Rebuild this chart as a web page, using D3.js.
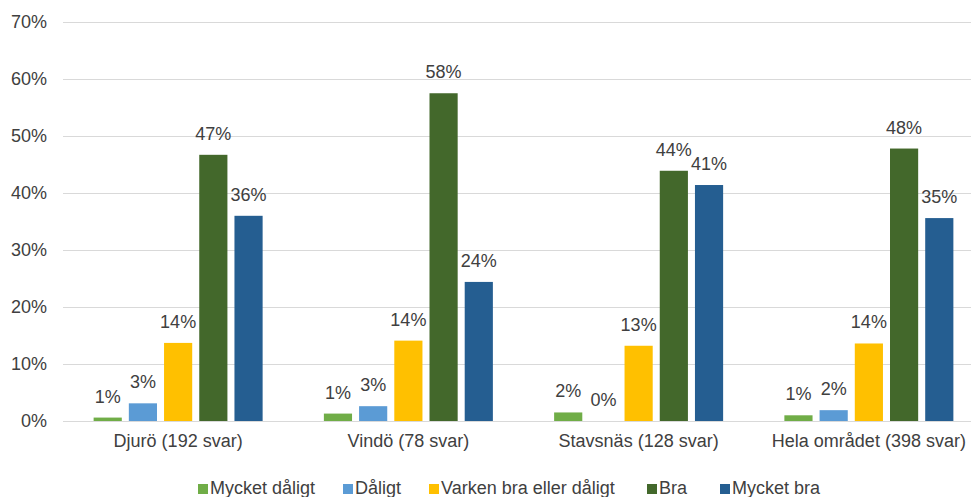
<!DOCTYPE html>
<html><head><meta charset="utf-8">
<script src="https://cdn.jsdelivr.net/npm/d3@7"></script>
<style>
body{margin:0;background:#fff;}
svg{display:block;font-family:"Liberation Sans",Arial,sans-serif;}
</style></head>
<body><svg id="c" width="971" height="497"></svg>
<script>
const categories = ["Djurö (192 svar)", "Vindö (78 svar)", "Stavsnäs (128 svar)", "Hela området (398 svar)"];
const seriesNames = ["Mycket dåligt", "Dåligt", "Varken bra eller dåligt", "Bra", "Mycket bra"];
const seriesColors = ["#70ad47", "#5b9bd5", "#ffc000", "#43682b", "#255e91"];
const mycketDaligt = [0.006, 0.013, 0.015, 0.010];
const daligt = [0.031, 0.026, 0.0, 0.019];
const varken = [0.137, 0.141, 0.132, 0.136];
const bra = [0.467, 0.575, 0.439, 0.478];
const mycketBra = [0.360, 0.244, 0.414, 0.356];
const labels = [
  ["1%", "3%", "14%", "47%", "36%"],
  ["1%", "3%", "14%", "58%", "24%"],
  ["2%", "0%", "13%", "44%", "41%"],
  ["1%", "2%", "14%", "48%", "35%"]
];
const yTicks = [0, 0.1, 0.2, 0.3, 0.4, 0.5, 0.6, 0.7];
const values = [mycketDaligt, daligt, varken, bra, mycketBra];

const svg = d3.select("#c");
const textColor = "#404040";
const fs = "18px";
const x0 = d3.scaleBand().domain(categories).range([63, 984]).padding(0);
const bw = x0.bandwidth();
const span = 169;
const x1 = d3.scaleBand().domain(seriesNames).range([(bw - span) / 2, (bw + span) / 2]).paddingInner(0.2).paddingOuter(0);
const y = d3.scaleLinear().domain([0, 0.7]).range([421, 22]);

// gridlines
svg.append("g").selectAll("line").data(yTicks).join("line")
  .attr("x1", 63).attr("x2", 984)
  .attr("y1", d => Math.round(y(d)) + 0.5).attr("y2", d => Math.round(y(d)) + 0.5)
  .attr("stroke", "#d9d9d9").attr("stroke-width", 1);

// y axis labels
const yAxis = d3.axisLeft(y).tickValues(yTicks).tickFormat(d3.format(".0%")).tickSize(0).tickPadding(16);
const ya = svg.append("g").attr("transform", "translate(63,0)").call(yAxis);
ya.select(".domain").remove();
ya.selectAll("text").attr("fill", textColor).style("font-size", fs).attr("font-family", null);

// bars
const groups = svg.append("g").selectAll("g").data(categories).join("g")
  .attr("transform", d => `translate(${x0(d)},0)`);
groups.each(function(cat, ci) {
  const g = d3.select(this);
  seriesNames.forEach((s, si) => {
    const v = values[si][ci];
    g.append("rect")
      .attr("x", x1(s)).attr("width", x1.bandwidth())
      .attr("y", y(v)).attr("height", y(0) - y(v))
      .attr("fill", seriesColors[si]);
    g.append("text")
      .attr("x", x1(s) + x1.bandwidth() / 2)
      .attr("y", y(v) - 15)
      .attr("text-anchor", "middle")
      .attr("fill", textColor).style("font-size", fs)
      .text(labels[ci][si]);
  });
});

// baseline
svg.append("line").attr("x1", 63).attr("x2", 984).attr("y1", 421.5).attr("y2", 421.5)
  .attr("stroke", "#d9d9d9").attr("stroke-width", 1);

// x axis labels
const xAxis = d3.axisBottom(x0).tickSize(0).tickPadding(13);
const xa = svg.append("g").attr("transform", "translate(0,421)").call(xAxis);
xa.select(".domain").remove();
xa.selectAll("text").attr("fill", textColor).style("font-size", fs).attr("font-family", null);

// legend
const legendX = [198, 343, 429, 647, 720];
const lg = svg.append("g");
seriesNames.forEach((s, i) => {
  lg.append("rect").attr("x", legendX[i]).attr("y", 484).attr("width", 10).attr("height", 10).attr("fill", seriesColors[i]);
  lg.append("text").attr("x", legendX[i] + 12).attr("y", 494).attr("fill", textColor).style("font-size", fs).text(s);
});
</script>
</body></html>
